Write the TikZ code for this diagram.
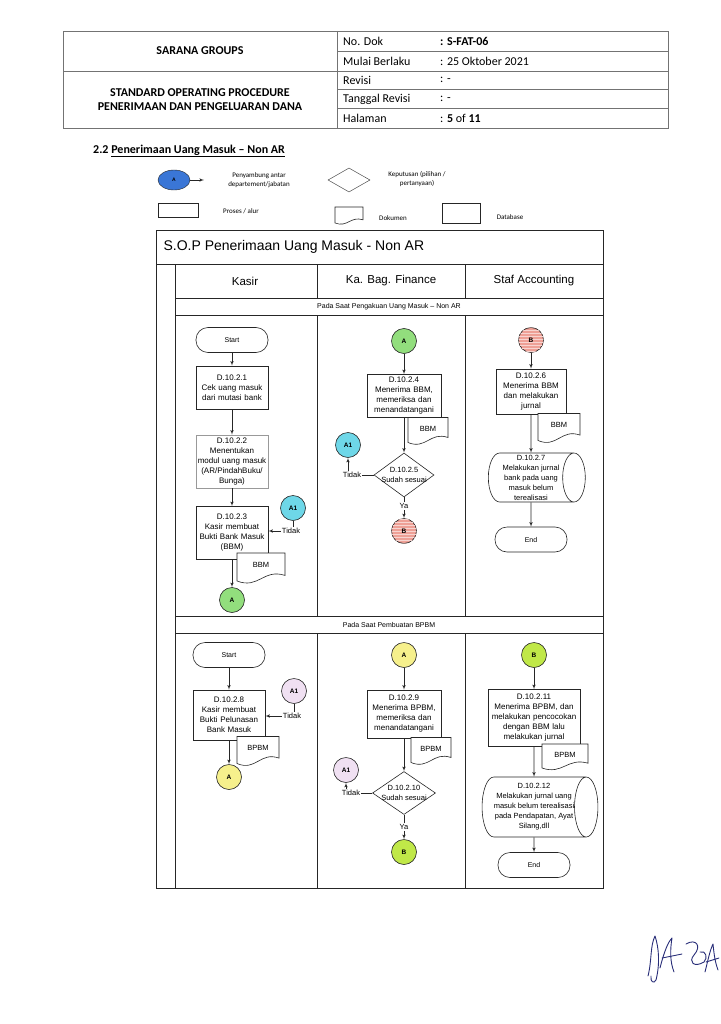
\documentclass[tikz,border=0pt]{standalone}
\usepackage{fontspec}
\setmainfont{Carlito}
\newfontfamily\arialf{Liberation Sans}
\usepackage{tikz}
\usetikzlibrary{positioning}
\usetikzlibrary{shapes,arrows,calc,patterns}

\definecolor{greenA}{RGB}{146,222,125}
\definecolor{cyanA}{RGB}{110,215,232}
\definecolor{pinkB}{RGB}{238,160,150}
\definecolor{yellowA}{RGB}{246,240,140}
\definecolor{lilacA}{RGB}{240,224,242}
\definecolor{limeB}{RGB}{192,232,72}
\definecolor{blueA}{RGB}{58,118,214}
\definecolor{ink}{RGB}{40,45,120}

\tikzstyle{block} = [rectangle, draw=black!85, fill=white, line width=0.6pt,
text width=70pt, align=center, inner sep=1pt, font=\arialf\fontsize{8}{10}\selectfont]
\tikzstyle{term} = [rectangle, draw=black!85, fill=white, line width=0.6pt, rounded corners=12pt,
minimum width=72pt, minimum height=25pt, font=\arialf\fontsize{7}{8}\selectfont]
\tikzstyle{conn} = [circle, draw=black!85, line width=0.6pt, minimum size=25pt, inner sep=0pt,
font=\arialf\bfseries\fontsize{6.5}{7}\selectfont]
\tikzstyle{decision} = [diamond, draw=black!85, fill=white, line width=0.6pt, inner sep=0pt,
minimum width=60pt, minimum height=44pt]
\tikzstyle{dectext} = [align=center, inner sep=0pt, font=\arialf\fontsize{7.5}{10}\selectfont]
\tikzstyle{db} = [cylinder, shape border rotate=0, aspect=0.5, draw=black!85, fill=white,
line width=0.6pt, inner sep=0pt, align=center, font=\arialf\fontsize{7.5}{10}\selectfont]
\tikzstyle{lbl} = [inner sep=1pt, font=\arialf\fontsize{7.5}{8}\selectfont]
\tikzstyle{doctext} = [inner sep=0pt, font=\arialf\fontsize{7.5}{8}\selectfont]
\tikzstyle{docline} = [draw=black!85, fill=white, line width=0.6pt]
\tikzstyle{lane} = [draw=black!85, line width=0.8pt]
\tikzstyle{hdr} = [draw=black!55, line width=0.6pt]
\tikzstyle{hdrbold} = [align=center, font=\bfseries\fontsize{12}{13.5}\selectfont]
\tikzstyle{hdrtext} = [anchor=west, inner sep=0pt, font=\fontsize{12}{13}\selectfont]
\tikzstyle{lgtext} = [align=center, inner sep=0pt, font=\fontsize{7}{9}\selectfont]
\tikzstyle{lanehead} = [font=\arialf\fontsize{11.5}{12}\selectfont]
\tikzstyle{phase} = [font=\arialf\fontsize{7}{8}\selectfont]
\tikzstyle{sig} = [draw=ink, line width=0.9pt, line cap=round, line join=round]
\tikzstyle{line} = [draw=black!85, line width=0.6pt, -latex']

% document symbol: name, centre, width, height, text
\newcommand{\mkdoc}[5]{%
  \coordinate (#1-c) at (#2);
  \draw [docline] ($(#1-c)+(-#3/2,-#4/2)$) -- ($(#1-c)+(#3/2,-#4/2)$)
    -- ($(#1-c)+(#3/2,0.3*#4)$)
    .. controls ($(#1-c)+(0.05*#3,0.05*#4)$) and ($(#1-c)+(-0.05*#3,0.8*#4)$)
    .. ($(#1-c)+(-#3/2,#4/2)$) -- cycle;
  \node [doctext] (#1) at ($(#1-c)+(0,-0.06*#4)$) {#5};}

\begin{document}
\begin{tikzpicture}[x=1pt, y=-1pt]
    \useasboundingbox (0,0) rectangle (720,1024);

    % header
    \draw [hdr] (63,31) rectangle (668,128);
    \draw [hdr] (337,31) -- (337,128);
    \draw [hdr] (63,71) -- (668,71);
    \foreach \yy in {51,89,108} \draw [hdr] (337,\yy) -- (668,\yy);
    \node [hdrbold] (sg) at (200,51) {SARANA GROUPS};
    \node [hdrbold] (sop) at (200,99.5) {STANDARD OPERATING PROCEDURE\\PENERIMAAN DAN PENGELUARAN DANA};
    \node [hdrtext] (ndl) at (343,41) {No. Dok};
    \node [hdrtext] (mbl) at (343,61) {Mulai Berlaku};
    \node [hdrtext] (rvl) at (343,80) {Revisi};
    \node [hdrtext] (trl) at (343,99) {Tanggal Revisi};
    \node [hdrtext] (hml) at (343,118) {Halaman};
    \node [hdrtext] (ndv) at (440,41) {\textbf{: S-FAT-06}};
    \node [hdrtext] (mbv) at (440,61) {: 25 Oktober 2021};
    \node [hdrtext] (rvv) at (440,80) {: -};
    \node [hdrtext] (trv) at (440,99) {: -};
    \node [hdrtext] (hmv) at (440,118) {: \textbf{5} of \textbf{11}};
    \node [hdrtext, font=\bfseries\fontsize{12}{13}\selectfont] (sec) at (93,151) {2.2 \underline{Penerimaan Uang Masuk – Non AR}};

    % legend
    \node [ellipse, draw=black!85, fill=blueA, minimum width=32pt, minimum height=20pt, inner sep=0pt,
      font=\arialf\bfseries\fontsize{5}{5}\selectfont] (lgc) at (174,180) {A};
    \coordinate (lgce) at (204,180);
    \node [lgtext] (lgct) at (259,180) {Penyambung antar\\departement/jabatan};
    \node [diamond, draw=black!85, minimum width=42pt, minimum height=24pt, inner sep=0pt] (lgd) at (349,180) {};
    \node [lgtext] (lgdt) at (417,179) {Keputusan (pilihan /\\pertanyaan)};
    \node [rectangle, draw=black!85, minimum width=40pt, minimum height=14pt] (lgp) at (178,210) {};
    \node [lgtext] (lgpt) at (241,211) {Proses / alur};
    \mkdoc{lgdoc}{349,215}{28}{16}{}
    \node [lgtext] (lgdct) at (393,218) {Dokumen};
    \node [db, minimum height=38pt, minimum width=20pt] (lgdb) at (461,213) {};
    \node [lgtext] (lgdbt) at (510,217) {Database};

    % lanes
    \draw [lane] (156,230) rectangle (603,888);
    \draw [lane] (156,264) -- (603,264);
    \draw [lane] (175,264) -- (175,888);
    \draw [lane] (175,298) -- (603,298);
    \draw [lane] (175,315) -- (603,315);
    \draw [lane] (175,616) -- (603,616);
    \draw [lane] (175,633) -- (603,633);
    \foreach \xx in {317,465} {
      \draw [lane] (\xx,264) -- (\xx,298);
      \draw [lane] (\xx,315) -- (\xx,616);
      \draw [lane] (\xx,633) -- (\xx,888);
    }
    \node [anchor=west, font=\arialf\fontsize{14}{15}\selectfont] (ttl) at (160,247) {S.O.P Penerimaan Uang Masuk - Non AR};
    \node [lanehead] (hk) at (245,281) {Kasir};
    \node [lanehead] (hf) at (391,281) {Ka. Bag. Finance};
    \node [lanehead] (hs) at (534,281) {Staf Accounting};
    \node [phase] (ph1) at (389,306.5) {Pada Saat Pengakuan Uang Masuk – Non AR};
    \node [phase] (ph2) at (389,624.5) {Pada Saat Pembuatan BPBM};

    % nodes: pengakuan uang masuk
    \node [term] (sk1) at (232,340) {Start};
    \node [block, minimum height=43pt] (cum) at (232,387.5) {D.10.2.1\\Cek uang masuk\\dari mutasi bank};
    \node [block, draw=black!40, minimum height=53pt] (mum) at (232,461.5) {D.10.2.2\\Menentukan\\modul uang masuk\\(AR/PindahBuku/\\Bunga)};
    \node [block, minimum height=53pt] (kmb) at (232,533) {D.10.2.3\\Kasir membuat\\Bukti Bank Masuk\\(BBM)};
    \mkdoc{bbm1}{261,567}{48}{28}{BBM}
    \node [conn, fill=greenA] (ak1) at (232,600) {A};
    \node [conn, fill=cyanA] (a1k1) at (293,508) {A1};
    \node [lbl] (tk1) at (291,531) {Tidak};

    \node [conn, fill=greenA] (af1) at (404,341) {A};
    \node [block, text width=72pt, minimum height=43pt] (mbbm) at (404,396) {D.10.2.4\\Menerima BBM,\\memeriksa dan\\menandatangani};
    \mkdoc{bbm2}{428,430}{40}{25}{BBM}
    \node [decision, label={[dectext]center:D.10.2.5\\Sudah sesuai}] (ss1) at (404,475) {};
    \node [conn, fill=cyanA] (a1f1) at (348,445) {A1};
    \node [lbl] (tf1) at (352,475) {Tidak};
    \node [lbl] (ya1) at (404,506) {Ya};
    \node [conn, fill=pinkB, postaction={pattern=horizontal lines, pattern color=white!55!pinkB}] (bf1) at (404,531) {B};

    \node [conn, fill=pinkB, postaction={pattern=horizontal lines, pattern color=white!55!pinkB}] (bs1) at (531,340) {B};
    \node [block, text width=68pt, minimum height=45pt] (mbj) at (531,391.5) {D.10.2.6\\Menerima BBM\\dan melakukan\\jurnal};
    \mkdoc{bbm3}{559,427}{42}{27}{BBM}
    \node [db, minimum height=97pt, minimum width=49pt] (mjb) at (531,477.5) {D.10.2.7\\Melakukan jurnal\\bank pada uang\\masuk belum\\terealisasi};
    \node [term] (es1) at (531,539.5) {End};

    % nodes: pembuatan BPBM
    \node [term] (sk2) at (229,655) {Start};
    \node [block, minimum height=50pt] (kmbp) at (229,715) {D.10.2.8\\Kasir membuat\\Bukti Pelunasan\\Bank Masuk};
    \mkdoc{bpbm1}{258,750}{42}{27}{BPBM}
    \node [conn, fill=yellowA] (ak2) at (229,777) {A};
    \node [conn, fill=lilacA] (a1k2) at (294,691) {A1};
    \node [lbl] (tk2) at (292,716) {Tidak};

    \node [conn, fill=yellowA] (af2) at (404,655) {A};
    \node [block, text width=72pt, minimum height=48pt] (mbpbm) at (404,714) {D.10.2.9\\Menerima BPBM,\\memeriksa dan\\menandatangani};
    \mkdoc{bpbm2}{431,750}{40}{25}{BPBM}
    \node [decision, minimum width=63pt, minimum height=43pt, label={[dectext]center:D.10.2.10\\Sudah sesuai}] (ss2) at (404,793) {};
    \node [conn, fill=lilacA] (a1f2) at (346,770) {A1};
    \node [lbl] (tf2) at (351,793) {Tidak};
    \node [lbl] (ya2) at (404,827) {Ya};
    \node [conn, fill=limeB] (bf2) at (404,852) {B};

    \node [conn, fill=limeB] (bs2) at (534,655) {B};
    \node [block, text width=90pt, minimum height=57pt] (mpc) at (534,718) {D.10.2.11\\Menerima BPBM, dan\\melakukan pencocokan\\dengan BBM lalu\\melakukan jurnal};
    \mkdoc{bpbm3}{565,756}{46}{24}{BPBM}
    \node [db, minimum height=110pt, minimum width=60pt] (mjp) at (534,807) {D.10.2.12\\Melakukan jurnal uang\\masuk belum terealisasi\\pada Pendapatan, Ayat\\Silang,dll};
    \node [term] (es2) at (534,865) {End};

    % edges
    \path [line] (lgc) -- (lgce);

    \path [line] (sk1) -- (cum);
    \path [line] (cum) -- (mum);
    \path [line] (mum) -- (kmb);
    \path [line] (kmb) -- (ak1);
    \draw [black!85, line width=0.6pt] (a1k1.south) -- (a1k1.south |- tk1.north);
    \path [line] (tk1) -- (tk1 -| kmb.east);

    \path [line] (af1) -- (mbbm);
    \path [line] (mbbm) -- (ss1);
    \draw [black!85, line width=0.6pt] (ss1.west) -- (tf1.east);
    \path [line] (tf1.north -| a1f1.south) -- (a1f1.south);
    \draw [black!85, line width=0.6pt] (ss1.south) -- (ya1.north);
    \path [line] (ya1) -- (bf1);

    \path [line] (bs1) -- (mbj);
    \path [line] (mbj) -- (mjb);
    \path [line] (mjb) -- (es1);

    \path [line] (sk2) -- (kmbp);
    \path [line] (kmbp) -- (ak2);
    \draw [black!85, line width=0.6pt] (a1k2.south) -- (a1k2.south |- tk2.north);
    \path [line] (tk2) -- (tk2 -| kmbp.east);

    \path [line] (af2) -- (mbpbm);
    \path [line] (mbpbm) -- (ss2);
    \draw [black!85, line width=0.6pt] (ss2.west) -- (tf2.east);
    \path [line] (tf2.north -| a1f2.south) -- (a1f2.south);
    \draw [black!85, line width=0.6pt] (ss2.south) -- (ya2.north);
    \path [line] (ya2) -- (bf2);

    \path [line] (bs2) -- (mpc);
    \path [line] (mpc) -- (mjp);
    \path [line] (mjp) -- (es2);

    % signatures
    \draw [sig] (648,976) .. controls (652,960) and (650,946) .. (655,936) .. controls (659,948) and (660,964) .. (656,980) .. controls (654,984) and (650,982) .. (651,976);
    \draw [sig] (660,968) .. controls (664,952) and (668,942) .. (672,938) .. controls (670,950) and (670,962) .. (674,972);
    \draw [sig] (662,958) -- (682,954);
    \draw [sig] (686,944) .. controls (696,938) and (702,946) .. (694,955) .. controls (688,962) and (694,968) .. (704,962) .. controls (708,958) and (706,950) .. (700,952);
    \draw [sig] (705,972) .. controls (708,960) and (710,950) .. (713,944) .. controls (714,954) and (715,962) .. (718,970);
    \draw [sig] (706,962) -- (719,958);
\end{tikzpicture}
\end{document}
